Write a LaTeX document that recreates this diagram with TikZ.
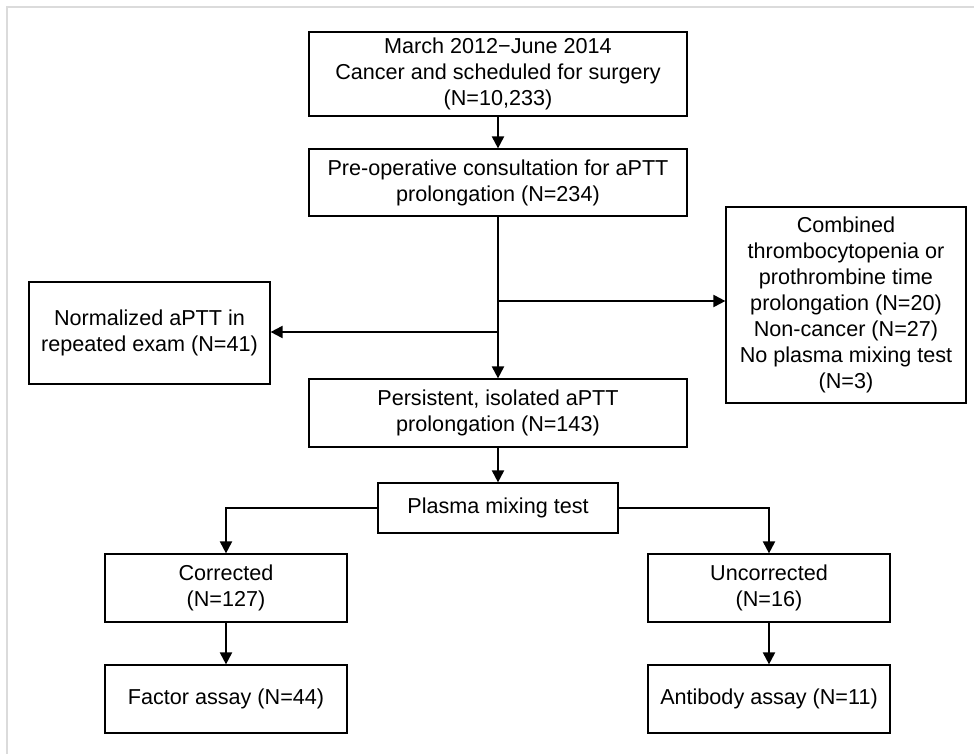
\documentclass[tikz,border=0pt]{standalone}
\usepackage{fontspec}
\setmainfont{Liberation Sans}
\usetikzlibrary{arrows.meta}
\begin{document}
\begin{tikzpicture}[x=1pt,y=-1pt,
  box/.style={draw, line width=1.2pt, fill=white, align=center, inner sep=0pt,
    font=\fontsize{21.6}{26}\selectfont},
  conn/.style={line width=2pt, -{Triangle[length=12pt,width=12pt]}}]
\useasboundingbox (0,0) rectangle (974,754);
\draw[black!14, line width=2.2pt] (7,754) -- (7,7) -- (974,7);

\node[box, minimum width=378pt, minimum height=84pt] (top) at (498,74)
  {March 2012−June 2014\\Cancer and scheduled for surgery\\(N=10,233)};
\node[box, minimum width=378pt, minimum height=67pt] (cons) at (498,182.5)
  {Pre-operative consultation for aPTT\\prolongation (N=234)};
\node[box, minimum width=240pt, minimum height=196pt] (excl) at (846,305)
  {Combined\\thrombocytopenia or\\prothrombine time\\prolongation (N=20)\\Non-cancer (N=27)\\No plasma mixing test\\(N=3)};
\node[box, minimum width=241pt, minimum height=102pt] (norm) at (149.5,333)
  {Normalized aPTT in\\repeated exam (N=41)};
\node[box, minimum width=378pt, minimum height=68pt] (pers) at (498,413)
  {Persistent, isolated aPTT\\prolongation (N=143)};
\node[box, minimum width=240pt, minimum height=50pt] (mix) at (498,508)
  {Plasma mixing test};
\node[box, minimum width=242pt, minimum height=68pt] (corr) at (226,588)
  {Corrected\\(N=127)};
\node[box, minimum width=242pt, minimum height=68pt] (unc) at (769,588)
  {Uncorrected\\(N=16)};
\node[box, minimum width=242pt, minimum height=68pt] (fac) at (226,699)
  {Factor assay (N=44)};
\node[box, minimum width=242pt, minimum height=68pt] (ab) at (769,699)
  {Antibody assay (N=11)};

\coordinate (sr) at (498,301);
\coordinate (sl) at (498,332);

\draw[conn] (top.south) -- (cons.north);
\draw[conn] (cons.south) -- (pers.north);
\draw[conn] (sr) -- (sr -| excl.west);
\draw[conn] (sl) -- (sl -| norm.east);
\draw[conn] (pers.south) -- (mix.north);
\draw[conn] (mix.west) -- (corr.north |- mix.west) -- (corr.north);
\draw[conn] (mix.east) -- (unc.north |- mix.east) -- (unc.north);
\draw[conn] (corr.south) -- (fac.north);
\draw[conn] (unc.south) -- (ab.north);
\end{tikzpicture}
\end{document}
